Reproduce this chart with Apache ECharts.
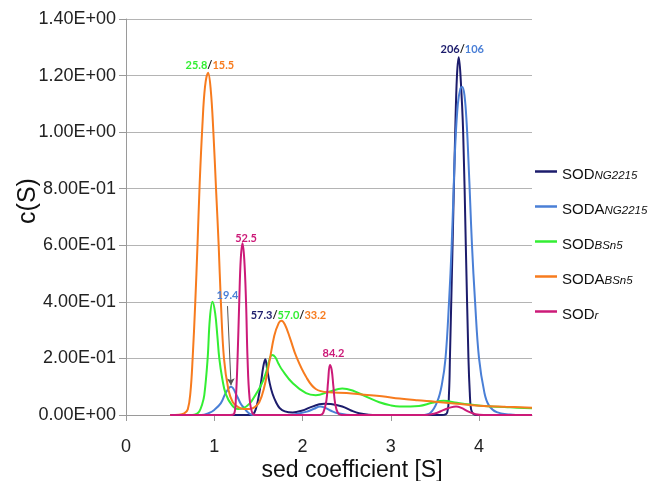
<!DOCTYPE html>
<html>
<head>
<meta charset="utf-8">
<script src="https://cdn.jsdelivr.net/npm/echarts@6/dist/echarts.min.js"></script>
<style>
  html, body { margin: 0; padding: 0; background: #fff; }
  #chart { width: 649px; height: 481px; }
</style>
</head>
<body>
<div id="chart"></div>
<script>
// Sedimentation coefficient distributions c(s) for each construct, [s, c(s)]
const sodNG2215 = [
  [0.5,0],[1.40,0],[1.44,0.003],[1.47,0.02],[1.50,0.06],[1.53,0.115],[1.555,0.17],[1.578,0.197],
  [1.60,0.16],[1.63,0.11],[1.66,0.075],[1.70,0.045],[1.74,0.025],[1.80,0.013],[1.89,0.009],
  [2.0,0.016],[2.08,0.026],[2.19,0.038],[2.25,0.04],[2.32,0.039],[2.45,0.03],[2.55,0.016],
  [2.64,0.006],[2.75,0.001],[2.85,0],[3.58,0],[3.64,0.01],[3.66,0.08],[3.67,0.2],[3.70,0.6],
  [3.73,1.0],[3.75,1.2],[3.77,1.265],[3.79,1.2],[3.82,1.0],[3.85,0.6],[3.88,0.2],[3.895,0.08],
  [3.91,0.02],[3.94,0.003],[3.98,0],[4.6,0]
];
const sodaNG2215 = [
  [0.5,0],[0.85,0],[0.94,0.007],[1.0,0.018],[1.075,0.042],[1.13,0.078],[1.19,0.1],[1.26,0.065],
  [1.30,0.04],[1.34,0.024],[1.38,0.01],[1.42,0.002],[1.5,0],[1.85,0],[1.95,0.005],[2.05,0.012],
  [2.13,0.022],[2.2,0.03],[2.26,0.025],[2.33,0.014],[2.4,0.006],[2.5,0.001],[2.6,0],[3.35,0],
  [3.45,0.008],[3.53,0.05],[3.58,0.11],[3.62,0.2],[3.66,0.4],[3.69,0.6],[3.71,0.78],[3.73,0.95],
  [3.76,1.1],[3.79,1.155],[3.81,1.16],[3.835,1.13],[3.86,1.03],[3.88,0.9],[3.90,0.75],[3.92,0.6],
  [3.955,0.4],[4.0,0.2],[4.06,0.08],[4.11,0.035],[4.2,0.01],[4.35,0.002],[4.5,0],[4.6,0]
];
const sodBSn5 = [
  [0.5,0],[0.75,0],[0.80,0.004],[0.83,0.012],[0.86,0.035],[0.887,0.07],[0.925,0.2],[0.95,0.34],
  [0.98,0.40],[1.01,0.36],[1.035,0.28],[1.057,0.2],[1.09,0.13],[1.13,0.075],[1.2,0.035],
  [1.27,0.021],[1.33,0.024],[1.40,0.04],[1.455,0.065],[1.53,0.105],[1.585,0.148],[1.62,0.19],
  [1.655,0.212],[1.69,0.205],[1.73,0.18],[1.77,0.159],[1.89,0.112],[2.04,0.077],[2.15,0.07],
  [2.3,0.082],[2.45,0.094],[2.58,0.085],[2.72,0.065],[2.87,0.045],[3.0,0.034],[3.1,0.03],
  [3.32,0.032],[3.47,0.043],[3.6,0.05],[3.75,0.043],[3.9,0.037],[4.1,0.031],[4.35,0.027],[4.6,0.024]
];
const sodaBSn5 = [
  [0.5,0],[0.6,0.001],[0.66,0.006],[0.70,0.02],[0.73,0.08],[0.755,0.2],[0.785,0.4],[0.81,0.6],
  [0.835,0.82],[0.865,1.02],[0.895,1.16],[0.93,1.21],[0.96,1.15],[0.99,1.0],[1.02,0.8],[1.05,0.6],
  [1.075,0.4],[1.11,0.2],[1.16,0.09],[1.21,0.045],[1.27,0.028],[1.33,0.021],[1.40,0.021],
  [1.46,0.028],[1.51,0.045],[1.56,0.09],[1.62,0.18],[1.68,0.28],[1.73,0.325],[1.76,0.333],
  [1.80,0.32],[1.86,0.27],[1.93,0.206],[2.04,0.135],[2.15,0.092],[2.3,0.08],[2.5,0.078],
  [2.7,0.072],[2.9,0.066],[3.1,0.058],[3.3,0.052],[3.5,0.047],[3.75,0.04],[4.0,0.033],
  [4.3,0.029],[4.6,0.026]
];
const sodR = [
  [0.5,0],[1.18,0],[1.226,0.005],[1.245,0.06],[1.264,0.2],[1.283,0.4],[1.30,0.55],[1.32,0.607],
  [1.34,0.55],[1.36,0.4],[1.377,0.2],[1.40,0.06],[1.434,0.005],[1.48,0],[2.2,0],[2.235,0.008],
  [2.27,0.05],[2.29,0.12],[2.31,0.177],[2.33,0.16],[2.35,0.1],[2.37,0.04],[2.40,0.008],[2.44,0],
  [3.4,0],[3.5,0.005],[3.6,0.018],[3.68,0.027],[3.74,0.03],[3.8,0.025],[3.88,0.012],[3.96,0.003],
  [4.05,0],[4.6,0]
];

const seriesNames = ['SOD_NG2215', 'SODA_NG2215', 'SOD_BSn5', 'SODA_BSn5', 'SOD_r'];
const seriesColors = ['#1c1c6c', '#4a7fd6', '#33ee33', '#f77b1e', '#cc1a78'];
const seriesData = [sodNG2215, sodaNG2215, sodBSn5, sodaBSn5, sodR];

const xTicks = [0, 1, 2, 3, 4];

// Peak annotations: anchor [s, c(s)] and coloured pieces of text
const peakNotes = [
  { at: [0.95, 1.237], parts: [['25.8', 2], ['/', -1], ['15.5', 3]] },
  { at: [3.81, 1.293], parts: [['206', 0], ['/', -1], ['106', 1]] },
  { at: [1.36, 0.624], parts: [['52.5', 4]] },
  { at: [1.15, 0.424], parts: [['19.4', 1]] },
  { at: [1.84, 0.353], parts: [['57.3', 0], ['/', -1], ['57.0', 2], ['/', -1], ['33.2', 3]] },
  { at: [2.35, 0.216], parts: [['84.2', 4]] }
];
const arrowFrom = [1.15, 0.385];
const arrowTo = [1.19, 0.105];

const fmtExp = v => {
  const [m, e] = Number(v).toExponential(2).split('e');
  const sign = e[0] === '-' ? '-' : '+';
  const digits = e.replace(/[+-]/, '').padStart(2, '0');
  return m + 'E' + sign + digits;
};

const FONT = 'Liberation Sans, Arial, sans-serif';
const NOTE_FONT = 'bold 11px Lato, "Open Sans", sans-serif';

const chart = echarts.init(document.getElementById('chart'), null, { renderer: 'canvas' });

const series = seriesNames.map((name, i) => {
  const s = {
    name,
    type: 'line',
    data: seriesData[i],
    smooth: 0.4,
    showSymbol: false,
    lineStyle: { color: seriesColors[i], width: 2 },
    itemStyle: { color: seriesColors[i] },
    animation: false,
    z: 2 + i
  };
  if (i === 1) {
    s.markLine = {
      silent: true,
      animation: false,
      symbol: ['none', 'arrow'],
      symbolSize: [6, 7],
      label: { show: false },
      lineStyle: { color: '#555', width: 1, type: 'solid' },
      data: [[{ coord: arrowFrom }, { coord: arrowTo }]]
    };
  }
  return s;
});

const richNote = { k: { fill: '#222', font: NOTE_FONT } };
seriesColors.forEach((c, i) => { richNote['c' + i] = { fill: c, font: NOTE_FONT }; });

chart.setOption({
  backgroundColor: '#fff',
  animation: false,
  grid: { left: 126, top: 19, width: 406, height: 396, outerBoundsMode: 'none', containLabel: false },
  legend: {
    orient: 'vertical',
    left: 535,
    top: 161,
    padding: 0,
    icon: 'rect',
    itemWidth: 22,
    itemHeight: 2.5,
    itemGap: 14,
    data: seriesNames,
    formatter: name => {
      const [main, sub] = name.split('_');
      return '{m|' + main + '}{s|' + sub + '}';
    },
    textStyle: {
      rich: {
        m: { fontSize: 15, fontFamily: FONT, color: '#111', lineHeight: 21, verticalAlign: 'bottom' },
        s: { fontSize: 11.5, fontStyle: 'italic', fontFamily: FONT, color: '#111', lineHeight: 12, padding: [9, 0, 0, 0], verticalAlign: 'bottom' }
      }
    }
  },
  xAxis: {
    type: 'value',
    min: 0,
    max: 4.6,
    interval: 1,
    name: 'sed coefficient [S]',
    nameLocation: 'middle',
    nameGap: 44,
    nameMoveOverlap: false,
    nameTextStyle: { fontSize: 23, fontFamily: FONT, color: '#111', padding: [0, 0, 0, 46] },
    axisLine: { show: true, lineStyle: { color: '#9a9a9a', width: 1 } },
    axisTick: { show: true, length: 6, lineStyle: { color: '#9a9a9a' }, customValues: xTicks },
    axisLabel: { fontSize: 18, fontFamily: FONT, color: '#222', margin: 23, customValues: xTicks },
    splitLine: { show: false }
  },
  yAxis: {
    type: 'value',
    min: 0,
    max: 1.4,
    interval: 0.2,
    name: 'c(S)',
    nameLocation: 'middle',
    nameGap: 85,
    nameMoveOverlap: false,
    nameTextStyle: { fontSize: 25, fontFamily: FONT, color: '#111', padding: [0, 0, 0, 32] },
    axisLine: { show: true, lineStyle: { color: '#9a9a9a', width: 1 } },
    axisTick: { show: true, length: 7, lineStyle: { color: '#9a9a9a' } },
    axisLabel: { fontSize: 18, fontFamily: FONT, color: '#222', margin: 10, formatter: fmtExp },
    splitLine: { show: true, lineStyle: { color: '#b4b4b4', width: 1 } }
  },
  series
});

// Place the peak annotations at their data positions
const graphics = peakNotes.map(n => {
  const p = chart.convertToPixel({ gridIndex: 0 }, n.at);
  const text = n.parts.map(([t, ci]) => '{' + (ci < 0 ? 'k' : 'c' + ci) + '|' + t + '}').join('');
  return {
    type: 'text',
    x: p[0],
    y: p[1],
    z: 20,
    style: {
      text,
      align: 'center',
      verticalAlign: 'middle',
      font: NOTE_FONT,
      rich: richNote
    }
  };
});
chart.setOption({ graphic: graphics });
</script>
</body>
</html>
